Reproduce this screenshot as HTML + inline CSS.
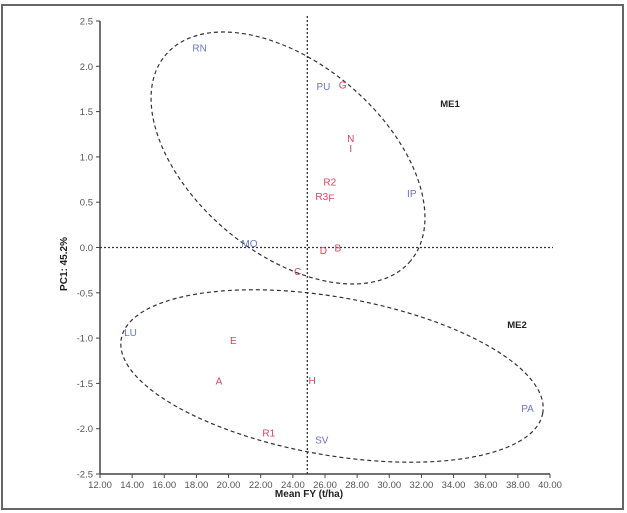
<!DOCTYPE html>
<html><head><meta charset="utf-8"><style>
html,body{margin:0;padding:0;background:#fff;}
svg{display:block;font-family:"Liberation Sans",sans-serif;}
</style></head><body>
<svg id="chart" width="627" height="513" viewBox="0 0 627 513" xmlns="http://www.w3.org/2000/svg">
<rect x="2" y="5" width="621" height="504" fill="#fff" stroke="#666" stroke-width="2"/>
<g id="plot"></g>
</svg>
<script>
const names = ["RN","PU","G","N","I","R2","R3","F","IP","MO","D","B","C","LU","E","A","H","R1","SV","PA"];
const meanFY = [18.2,25.9,27.1,27.6,27.6,26.3,25.8,26.4,31.4,21.3,25.9,26.8,24.3,13.9,20.3,19.4,25.2,22.5,25.8,38.6];
const pc1 = [2.21,1.78,1.80,1.21,1.10,0.73,0.57,0.55,0.60,0.05,-0.03,0.00,-0.26,-0.93,-1.02,-1.47,-1.46,-2.04,-2.12,-1.77];
const groups = ["b","b","r","r","r","r","r","r","b","b","r","r","r","b","r","r","r","r","b","b"];
const xTicks = [12,14,16,18,20,22,24,26,28,30,32,34,36,38,40];
const yTicks = [2.5,2.0,1.5,1.0,0.5,0.0,-0.5,-1.0,-1.5,-2.0,-2.5];
const meanLine = 24.9;

const X0=100,X1=550,Y0=21,Y1=474;
const sx=v=>X0+(v-12)/(40-12)*(X1-X0);
const sy=v=>Y0+(2.5-v)/5*(Y1-Y0);
const NS="http://www.w3.org/2000/svg";
const g=document.getElementById("plot");
function mk(t,a){const e=document.createElementNS(NS,t);for(const k in a)e.setAttribute(k,a[k]);g.appendChild(e);return e;}

let e=mk("line",{x1:X0,y1:Y0,x2:X0,y2:Y1,stroke:"#444","stroke-width":1.5});


e=mk("line",{x1:X0,y1:Y1,x2:X1,y2:Y1,stroke:"#444","stroke-width":1.5});



xTicks.forEach(v=>{
  mk("line",{x1:sx(v),y1:Y1,x2:sx(v),y2:Y1+4,stroke:"#444"});
  const t=mk("text",{x:sx(v),y:Y1+14,"font-size":9.5,fill:"#555","text-anchor":"middle"});
  t.textContent=v.toFixed(2);
  
  
});
yTicks.forEach(v=>{
  mk("line",{x1:X0-4,y1:sy(v),x2:X0,y2:sy(v),stroke:"#444"});
  const t=mk("text",{x:X0-7,y:sy(v)+3.5,"font-size":9.5,fill:"#555","text-anchor":"end"});
  t.textContent=v.toFixed(1);
  
  
});

e=mk("line",{x1:X0,y1:sy(0),x2:553,y2:sy(0),stroke:"#333","stroke-width":1.3,"stroke-dasharray":"2,2"});


e=mk("line",{x1:sx(meanLine),y1:16,x2:sx(meanLine),y2:Y1,stroke:"#333","stroke-width":1.3,"stroke-dasharray":"2,2"});



e=mk("ellipse",{cx:288,cy:158,rx:160,ry:95,transform:"rotate(40 288 158)",fill:"none",stroke:"#333","stroke-width":1.2,"stroke-dasharray":"4,3"});


e=mk("ellipse",{cx:332,cy:376,rx:214,ry:79,transform:"rotate(10 332 376)",fill:"none",stroke:"#333","stroke-width":1.2,"stroke-dasharray":"4,3"});



names.forEach((n,i)=>{
  const t=mk("text",{x:sx(meanFY[i]),y:sy(pc1[i])+4,"font-size":10,"text-anchor":"middle",fill:groups[i]==="r"?"#d6455e":"#6a78c4"});
  t.textContent=n;
  
  
});

e=mk("text",{x:450,y:107,"font-size":9.5,"font-weight":"bold",fill:"#222","text-anchor":"middle"});
e.textContent="ME1";


e=mk("text",{x:517,y:328,"font-size":9.5,"font-weight":"bold",fill:"#222","text-anchor":"middle"});
e.textContent="ME2";


e=mk("text",{x:309,y:497,"font-size":10,"font-weight":"bold",fill:"#222","text-anchor":"middle"});
e.textContent="Mean FY (t/ha)";


e=mk("text",{x:0,y:0,"font-size":10,"font-weight":"bold",fill:"#222","text-anchor":"middle",transform:"translate(67 264) rotate(-90)"});
e.textContent="PC1: 45.2%";


</script>
</body></html>
